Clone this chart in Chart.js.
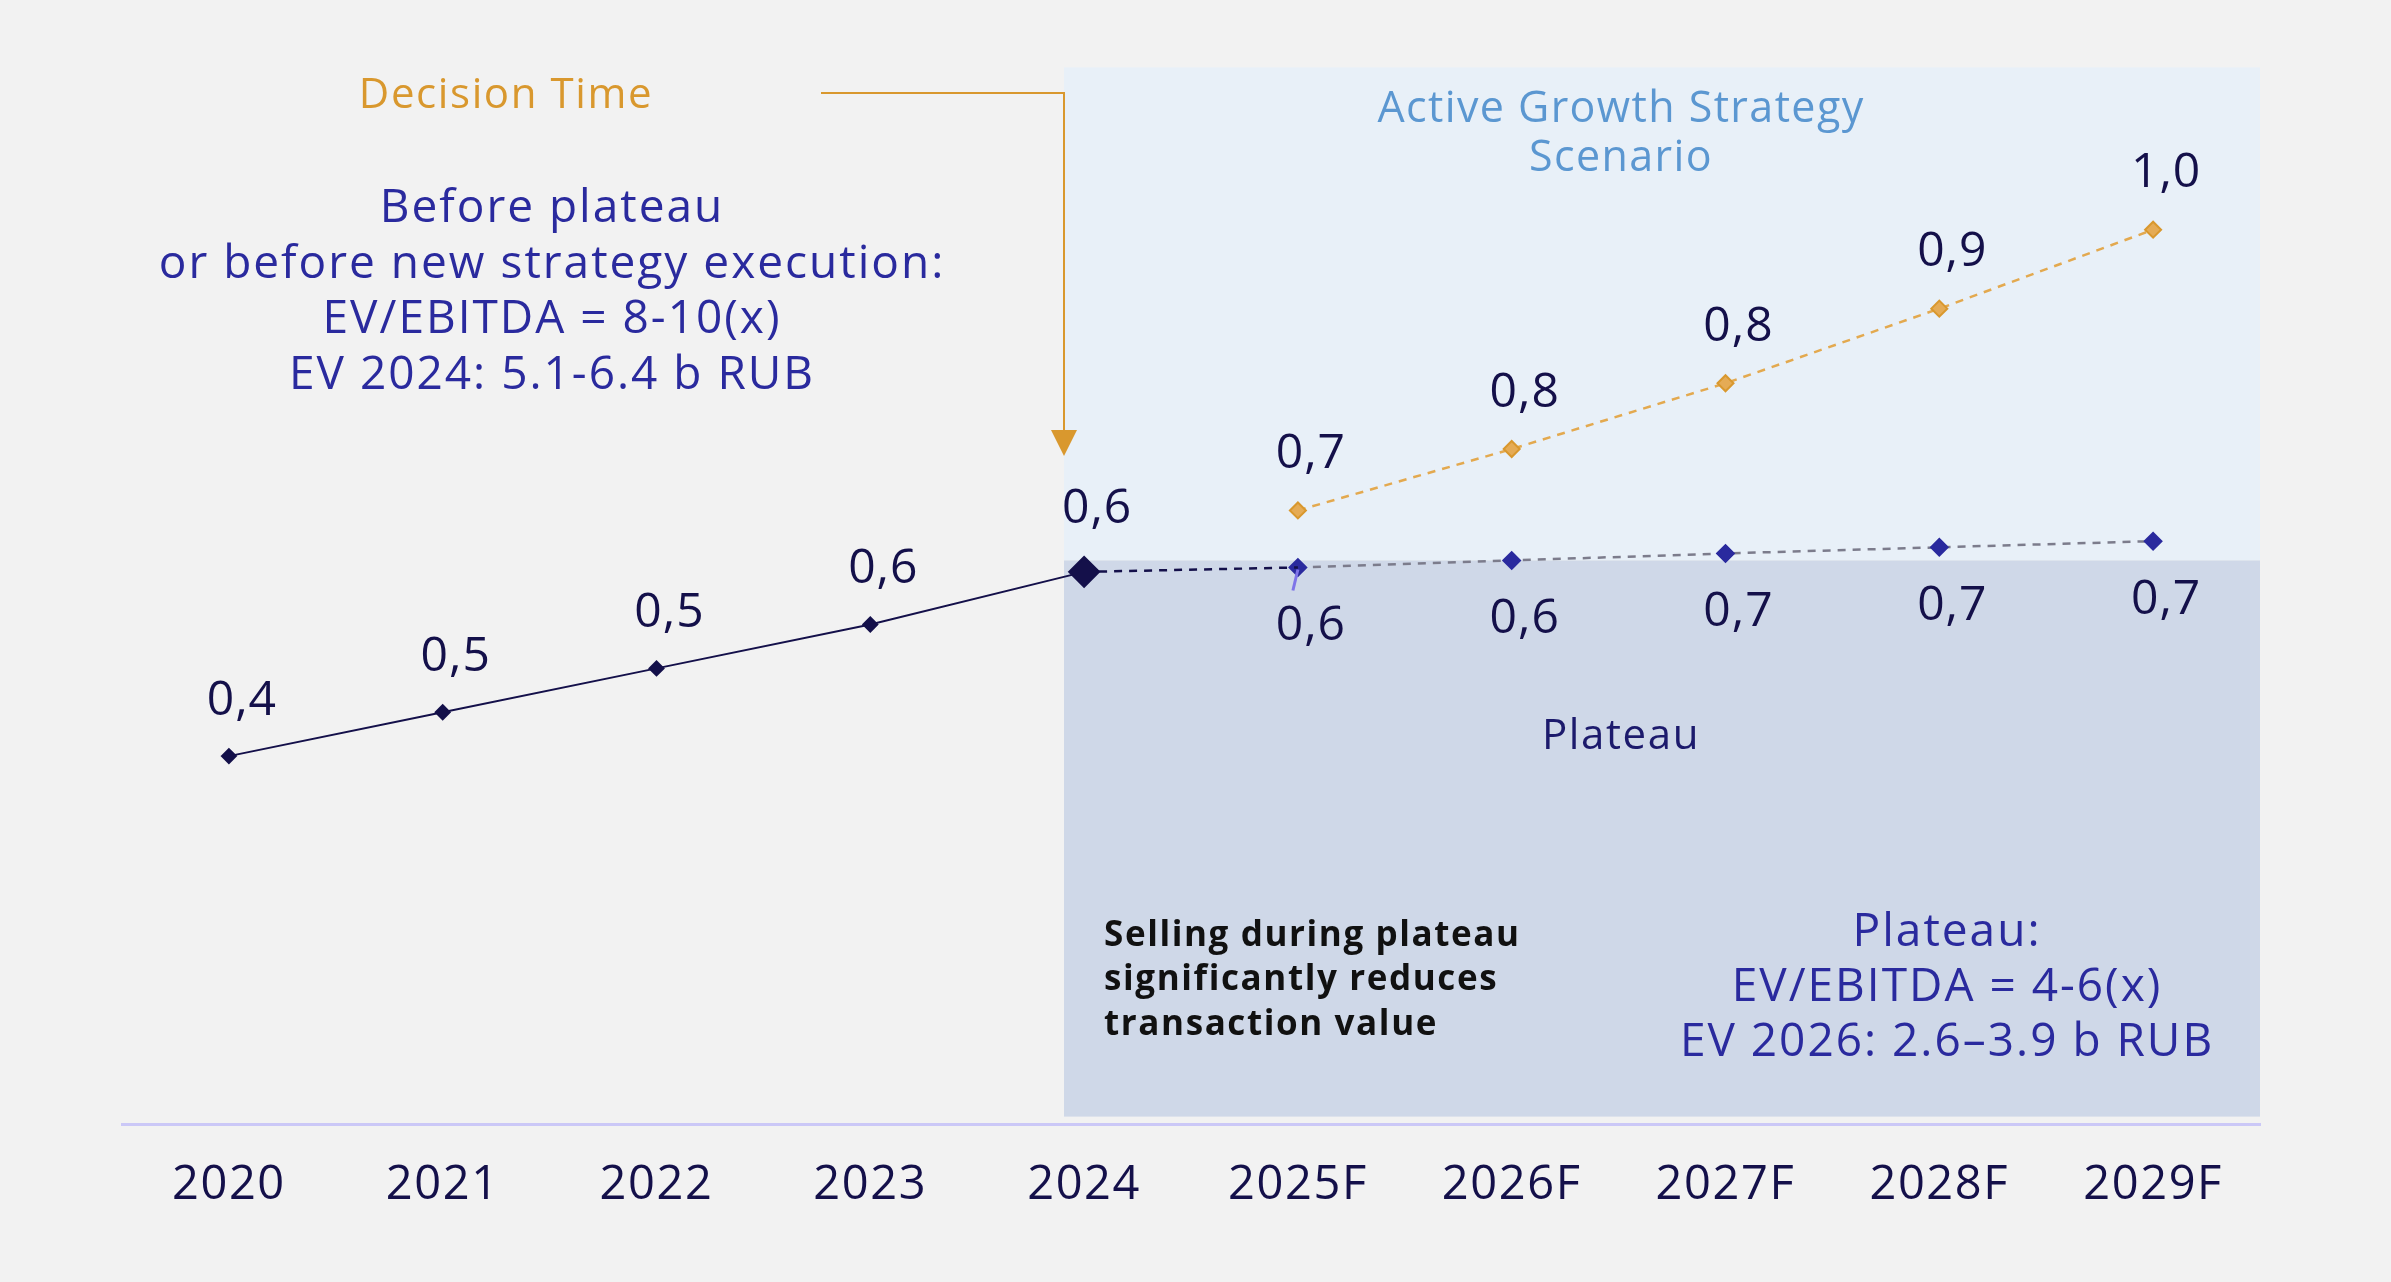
<!DOCTYPE html>
<html>
<head>
<meta charset="utf-8">
<script src="https://cdn.jsdelivr.net/npm/chart.js@4.4.1/dist/chart.umd.min.js"></script>
<style>
  html, body { margin: 0; padding: 0; background: #f2f2f2; }
  canvas { display: block; }
</style>
</head>
<body>
<canvas id="ev-chart" width="2391" height="1282"></canvas>
<script>
const years = ['2020', '2021', '2022', '2023', '2024', '2025F', '2026F', '2027F', '2028F', '2029F'];
const actual = [0.42, 0.47, 0.52, 0.57, 0.63, null, null, null, null, null];
const bridge = [null, null, null, null, 0.63, 0.635, null, null, null, null];
const plateau = [null, null, null, null, null, 0.635, 0.643, 0.651, 0.658, 0.665];
const growth = [null, null, null, null, null, 0.70, 0.77, 0.845, 0.93, 1.02];

const FONT = '"Open Sans", sans-serif';
const NAVY = '#14104a';
const BLUE = '#2a2a9e';
const ORANGE = '#d9982e';

function lines(ctx, arr, x, y, gap) {
    arr.forEach((t, i) => ctx.fillText(t, x, y + i * gap));
}

// shaded zones + text notes
const notes = {
    id: 'notes',
    beforeDraw(chart) {
        const ctx = chart.ctx;
        ctx.save();
        ctx.fillStyle = '#f2f2f2';
        ctx.fillRect(0, 0, chart.width, chart.height);
        ctx.restore();
        // wider tracking for axis labels (Montserrat-like look)
        ctx.letterSpacing = '1.6px';
    },
    beforeDatasetsDraw(chart) {
        const {ctx, chartArea} = chart;
        const xs = chart.scales.x, ys = chart.scales.y;
        const step = xs.getPixelForValue(1) - xs.getPixelForValue(0);
        const x0 = xs.getPixelForValue(4) - 0.094 * step;
        const yTop = ys.getPixelForValue(1.205);
        const yMid = ys.getPixelForValue(0.643);
        ctx.save();
        ctx.fillStyle = '#e8f0f8';
        ctx.fillRect(x0, yTop, chartArea.right - x0, yMid - yTop);
        ctx.fillStyle = '#cfd8e8';
        ctx.fillRect(x0, yMid, chartArea.right - x0, chartArea.bottom - 8 - yMid);

        // decision arrow
        ctx.strokeStyle = ORANGE;
        ctx.lineWidth = 2;
        ctx.beginPath();
        ctx.moveTo(821, 93);
        ctx.lineTo(x0, 93);
        ctx.lineTo(x0, 432);
        ctx.stroke();
        ctx.fillStyle = ORANGE;
        ctx.beginPath();
        ctx.moveTo(x0 - 13, 430);
        ctx.lineTo(x0 + 13, 430);
        ctx.lineTo(x0, 456);
        ctx.closePath();
        ctx.fill();

        ctx.textAlign = 'center';
        ctx.textBaseline = 'middle';
        ctx.letterSpacing = '1.6px';
        ctx.font = '42px ' + FONT;
        ctx.fillStyle = ORANGE;
        ctx.fillText('Decision Time', 506, 96);

        ctx.letterSpacing = '2px';
        ctx.font = '46px ' + FONT;
        ctx.fillStyle = BLUE;
        lines(ctx, ['Before plateau', 'or before new strategy execution:', 'EV/EBITDA = 8-10(x)', 'EV 2024: 5.1-6.4 b RUB'], 552, 209, 55.5);

        ctx.letterSpacing = '1.4px';
        ctx.font = '43px ' + FONT;
        ctx.fillStyle = '#5b97d1';
        lines(ctx, ['Active Growth Strategy', 'Scenario'], 1621, 110, 49);

        ctx.letterSpacing = '1.6px';
        ctx.font = '42px ' + FONT;
        ctx.fillStyle = '#1c1a6c';
        ctx.fillText('Plateau', 1621, 737);

        ctx.letterSpacing = '2px';
        ctx.font = '46px ' + FONT;
        ctx.fillStyle = BLUE;
        lines(ctx, ['Plateau:', 'EV/EBITDA = 4-6(x)', 'EV 2026: 2.6\u20133.9 b RUB'], 1947, 933, 55);

        ctx.textAlign = 'left';
        ctx.letterSpacing = '1.6px';
        ctx.font = 'bold 35px ' + FONT;
        ctx.fillStyle = '#111111';
        lines(ctx, ['Selling during plateau', 'significantly reduces', 'transaction value'], 1104, 936, 44.5);
        ctx.restore();
    },
    afterDatasetsDraw(chart) {
        const ctx = chart.ctx;
        ctx.save();
        ctx.letterSpacing = '1px';
        ctx.font = '48px ' + FONT;
        ctx.fillStyle = NAVY;
        ctx.textAlign = 'center';
        ctx.textBaseline = 'middle';
        chart.data.datasets.forEach((ds, i) => {
            if (!ds.labelSide) return;
            const meta = chart.getDatasetMeta(i);
            meta.data.forEach((pt, j) => {
                const v = ds.data[j];
                if (v == null) return;
                const r = Array.isArray(ds.pointRadius) ? ds.pointRadius[j] : ds.pointRadius;
                const dy = ds.labelSide === 'above' ? -(48 + r) : (51 + r);
                ctx.fillText(v.toFixed(1).replace('.', ','), pt.x + 13, pt.y + dy);
            });
        });
        // small leader tick under 2025F plateau point
        const p = chart.getDatasetMeta(2).data[5];
        ctx.strokeStyle = '#7f74e8';
        ctx.lineWidth = 3;
        ctx.beginPath();
        ctx.moveTo(p.x, p.y + 2);
        ctx.lineTo(p.x - 5, p.y + 23);
        ctx.stroke();
        ctx.restore();
    }
};

new Chart(document.getElementById('ev-chart'), {
    type: 'line',
    data: {
        labels: years,
        datasets: [{
            label: 'Actual',
            data: actual,
            borderColor: NAVY,
            borderWidth: 2,
            pointStyle: 'rectRot',
            pointRadius: [7, 7, 7, 7, 15, 0, 0, 0, 0, 0],
            pointBackgroundColor: NAVY,
            pointBorderColor: NAVY,
            labelSide: 'above'
        }, {
            label: 'Bridge',
            data: bridge,
            borderColor: NAVY,
            borderWidth: 2.5,
            borderDash: [8, 7],
            pointRadius: 0
        }, {
            label: 'Plateau',
            data: plateau,
            borderColor: '#7c7c8c',
            borderWidth: 2.5,
            borderDash: [8, 7],
            pointStyle: 'rectRot',
            pointRadius: 8,
            pointBackgroundColor: BLUE,
            pointBorderColor: BLUE,
            labelSide: 'below'
        }, {
            label: 'Active growth',
            data: growth,
            borderColor: '#e3a94f',
            borderWidth: 2.5,
            borderDash: [8, 7],
            pointStyle: 'rectRot',
            pointRadius: 8,
            pointBackgroundColor: '#e5ab55',
            pointBorderColor: ORANGE,
            pointBorderWidth: 2,
            labelSide: 'above'
        }]
    },
    options: {
        responsive: false,
        animation: false,
        devicePixelRatio: 1,
        layout: {
            padding: {left: 122, right: 131, top: 63, bottom: 35}
        },
        plugins: {
            legend: {display: false},
            tooltip: {enabled: false}
        },
        scales: {
            x: {
                offset: true,
                grid: {color: 'transparent', drawTicks: false},
                border: {display: true, color: '#cbc8f7', width: 3},
                ticks: {
                    color: NAVY,
                    padding: 33,
                    font: {family: FONT, size: 47}
                }
            },
            y: {
                display: false,
                min: 0,
                max: 1.21
            }
        }
    },
    plugins: [notes]
});
</script>
</body>
</html>
